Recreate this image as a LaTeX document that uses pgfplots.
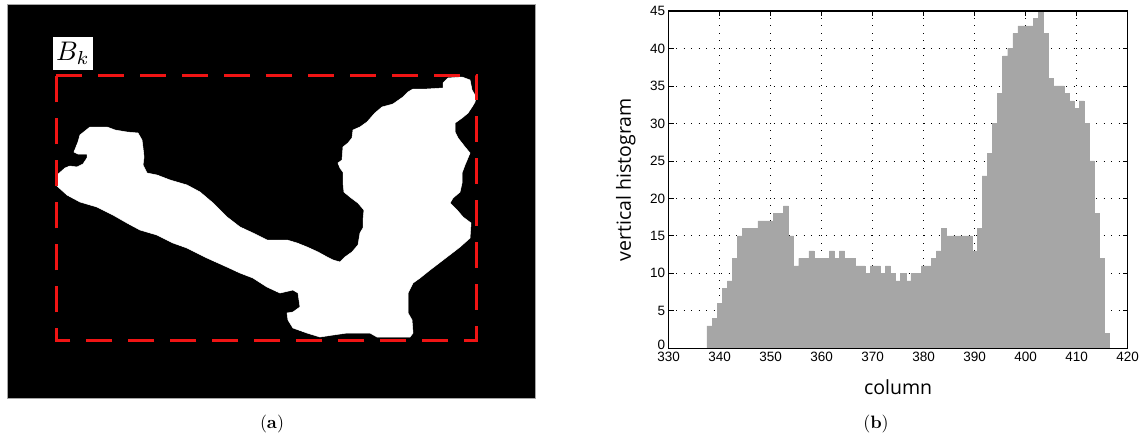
\documentclass[border=0pt]{standalone}
\usepackage{graphicx}
\usepackage{fontspec}
\usepackage{pgfplots}
\pgfplotsset{compat=1.18}
\usepackage{pgfplotstable}
\newfontfamily\tickfont{Liberation Sans}
\newfontfamily\labfont{Open Sans}
\definecolor{histgray}{HTML}{A6A6A6}
\definecolor{bkred}{HTML}{F01414}

\pgfplotstableread{
x y
338 3
339 4
340 6
341 8
342 9
343 12
344 15
345 16
346 16
347 16
348 17
349 17
350 17
351 18
352 18
353 19
354 15
355 11
356 12
357 12
358 13
359 12
360 12
361 12
362 13
363 12
364 13
365 12
366 12
367 11
368 11
369 10
370 11
371 11
372 10
373 11
374 10
375 9
376 10
377 9
378 10
379 10
380 11
381 11
382 12
383 13
384 16
385 15
386 15
387 15
388 15
389 15
390 13
391 16
392 23
393 26
394 30
395 34
396 39
397 40
398 42
399 43
400 43
401 43
402 44
403 45
404 42
405 36
406 35
407 35
408 34
409 33
410 32
411 33
412 30
413 25
414 18
415 12
416 2
}\histdata

\begin{document}
\begin{tikzpicture}
\useasboundingbox (0,0) rectangle (1147bp,-438bp);

% (a) binary image with bounding box
\begin{axis}[
  at={(7bp,-4bp)}, anchor=north west,
  width=528bp, height=394bp, scale only axis,
  xmin=7, xmax=535, ymin=4, ymax=398, y dir=reverse,
  xtick=\empty, ytick=\empty,
  axis background/.style={fill=black},
  axis line style={draw=gray!70, line width=0.8bp},
]
\addplot[fill=white, draw=white, line width=0.5bp] coordinates {
(56,176)(65,168)(70,166)(77,167)(83,164)(87,158)(87,154)(78,154)(74,152)(76,147)
(78,142)(80,135)(90,127)(107,127)(115,130)(127,132)(138,133)(142,140)(143,148)(144,157)
(143,165)(147,173)(157,175)(170,180)(187,185)(200,192)(213,203)(227,217)(240,227)(253,233)
(267,240)(280,240)(287,240)(297,243)(307,247)(318,252)(327,257)(333,260)(340,262)(345,257)
(352,252)(358,245)(360,233)(363,228)(363,220)(364,210)(358,203)(350,197)(344,192)(343,183)
(343,172)(340,168)(338,163)(342,160)(343,147)(348,143)(352,138)(353,130)(360,127)(367,122)
(375,113)(382,107)(393,104)(403,97)(408,92)(413,89)(427,89)(443,88)(443,83)(448,78)
(462,77)(470,80)(472,90)(476,97)(475,102)(472,107)(468,113)(462,118)(455,123)(455,132)
(458,138)(465,147)(470,153)(465,165)(462,173)(462,183)(460,192)(453,198)(450,203)(457,210)
(463,217)(471,223)(470,238)(460,247)(447,257)(430,270)(420,278)(413,283)(408,293)(408,313)
(412,320)(413,333)(410,337)(377,337)(370,333)(347,333)(333,335)(320,337)(307,333)(293,328)
(288,320)(287,313)(293,312)(300,307)(298,293)(293,290)(280,293)(267,287)(253,278)(240,273)
(227,267)(207,258)(187,248)(173,243)(157,235)(140,230)(127,223)(113,215)(97,207)(80,202)
(67,195)(56,185)(56,176)
};
\addplot[bkred, line width=3bp, dash pattern=on 26bp off 16bp, line cap=butt] coordinates {
(56,75)(476.7,75)(476.7,340)(56,340)(56,75)
};
\node[fill=white, inner sep=0pt, minimum width=40bp, minimum height=33bp]
  at (axis cs:73,53.5) {\scalebox{2.7}{$B_k$}};
\end{axis}

% (b) vertical histogram
\begin{axis}[
  at={(668.7bp,-11bp)}, anchor=north west,
  width=458.8bp, height=337.3bp, scale only axis,
  xmin=330, xmax=420, ymin=0, ymax=45,
  xtick={330,340,...,420}, ytick={0,5,...,45},
  yticklabels={\raisebox{8bp}{0},5,10,15,20,25,30,35,40,45},
  scaled ticks=false,
  grid=major,
  major grid style={black, line width=0.8bp, dash pattern=on 0.8bp off 6.7bp},
  tick align=inside, major tick length=5bp,
  tick style={black, line width=0.8bp},
  axis line style={line width=1.2bp},
  /pgf/number format/assume math mode=true,
  tick label style={font=\tickfont\fontsize{13.5bp}{15bp}\selectfont},
  label style={font=\labfont\fontsize{19.5bp}{22bp}\selectfont},
  xlabel={column}, ylabel={vertical histogram},
  xlabel style={at={(axis description cs:0.5,-0.1156)}, anchor=center},
  ylabel style={at={(axis description cs:-0.0937,0.5)}, anchor=center},
]
\addplot[ybar, bar width=1, bar shift=0pt, fill=histgray, draw=histgray, line width=0.4bp] table[x=x, y=y] {\histdata};
\draw[line width=1.2bp] (rel axis cs:0,0) rectangle (rel axis cs:1,1);
\end{axis}

\node at (272bp,-424bp) {\scalebox{1.8}{({\bfseries a})}};
\node at (876bp,-424bp) {\scalebox{1.8}{({\bfseries b})}};
\end{tikzpicture}
\end{document}
